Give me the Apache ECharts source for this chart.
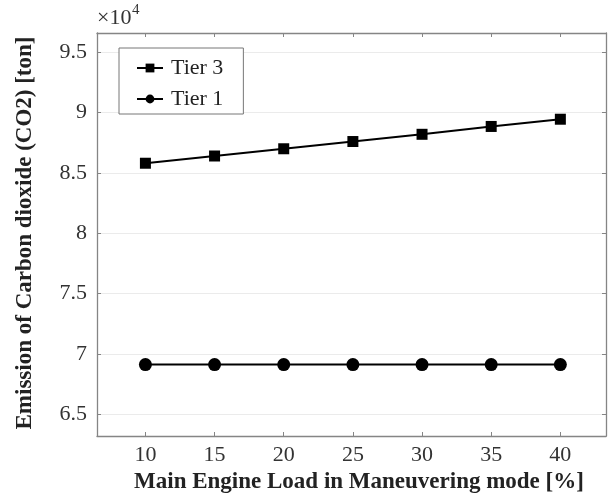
<!DOCTYPE html>
<html>
<head>
<meta charset="utf-8">
<script src="https://cdn.jsdelivr.net/npm/echarts@6/dist/echarts.min.js"></script>
<style>
html,body{margin:0;padding:0;background:#fff;}
#main{width:611px;height:497px;}
</style>
</head>
<body>
<div id="main"></div>
<script>
// 主机负载 (%)
var loads = [10, 15, 20, 25, 30, 35, 40];
// 排放量 (x10^4 ton)
var tier3 = [8.58, 8.64, 8.70, 8.76, 8.82, 8.885, 8.945];
var tier1 = [6.91, 6.91, 6.91, 6.91, 6.91, 6.91, 6.91];
var yTicks = [6.5, 7, 7.5, 8, 8.5, 9, 9.5];
var xTicks = [10, 15, 20, 25, 30, 35, 40];

var serif = '"Liberation Serif","Times New Roman",serif';
var axisGray = '#858585';

function pairs(xs, ys){
	var out = [];
	for (var i = 0; i < xs.length; i++) {
		out.push([xs[i], ys[i]]);
	}
	return out;
}

function xAxisOf(pos, showLabel){
	return {
		type: 'value', position: pos, min: 6.5, max: 43.3,
		axisLine: {show: true, onZero: false, lineStyle: {color: axisGray, width: 1.3}},
		axisTick: {show: true, inside: true, length: 4, customValues: xTicks, lineStyle: {color: axisGray}},
		axisLabel: {show: showLabel, customValues: xTicks, margin: 8, color: '#333', fontFamily: serif, fontSize: 22},
		splitLine: {show: false}
	};
}
function yAxisOf(pos, showLabel){
	return {
		type: 'value', position: pos, min: 6.318, max: 9.66,
		axisLine: {show: true, onZero: false, lineStyle: {color: axisGray, width: 1.3}},
		axisTick: {show: true, inside: true, length: 4, customValues: yTicks, lineStyle: {color: axisGray}},
		axisLabel: {show: showLabel, customValues: yTicks, margin: 10, color: '#333', fontFamily: serif, fontSize: 22},
		splitLine: {show: showLabel, lineStyle: {color: '#ebebeb', width: 1.2}}
	};
}

var chart = echarts.init(document.getElementById('main'));
var option = {
	animation: false,
	backgroundColor: '#fff',
	grid: {left: 97, top: 33, right: 5, bottom: 61},
	xAxis: [xAxisOf('bottom', true), xAxisOf('top', false)],
	yAxis: [yAxisOf('left', true), yAxisOf('right', false)],
	graphic: [
		{type: 'text', left: 97, top: 7, style: {text: '\u00d710', fontFamily: serif, fontSize: 22, fill: '#333'}},
		{type: 'text', left: 132, top: 3, style: {text: '4', fontFamily: serif, fontSize: 15, fill: '#333'}},
		{type: 'text', x: 359, y: 482, style: {text: 'Main Engine Load in Maneuvering mode [%]', fontFamily: serif, fontWeight: 'bold', fontSize: 23, fill: '#222', align: 'center', verticalAlign: 'middle'}},
		{type: 'text', x: 25, y: 233, rotation: Math.PI / 2, style: {text: 'Emission of Carbon dioxide (CO2) [ton]', fontFamily: serif, fontWeight: 'bold', fontSize: 23, fill: '#222', align: 'center', verticalAlign: 'middle'}}
	],
	legend: {
		left: 119, top: 48, orient: 'vertical',
		backgroundColor: '#fff', borderColor: '#777', borderWidth: 1,
		padding: [8, 20, 3, 17], itemGap: 7,
		itemWidth: 26, itemHeight: 11,
		textStyle: {fontFamily: serif, fontSize: 22, color: '#222', lineHeight: 24, padding: [0, 0, 0, 3]},
		data: ['Tier 3', 'Tier 1']
	},
	series: [
		{
			name: 'Tier 3', type: 'line', symbol: 'rect', symbolSize: 11,
			data: pairs(loads, tier3),
			itemStyle: {color: '#000'}, lineStyle: {color: '#000', width: 2}
		},
		{
			name: 'Tier 1', type: 'line', symbol: 'circle', symbolSize: 13,
			data: pairs(loads, tier1),
			itemStyle: {color: '#000'}, lineStyle: {color: '#000', width: 2}
		}
	]
};
chart.setOption(option);
</script>
</body>
</html>
